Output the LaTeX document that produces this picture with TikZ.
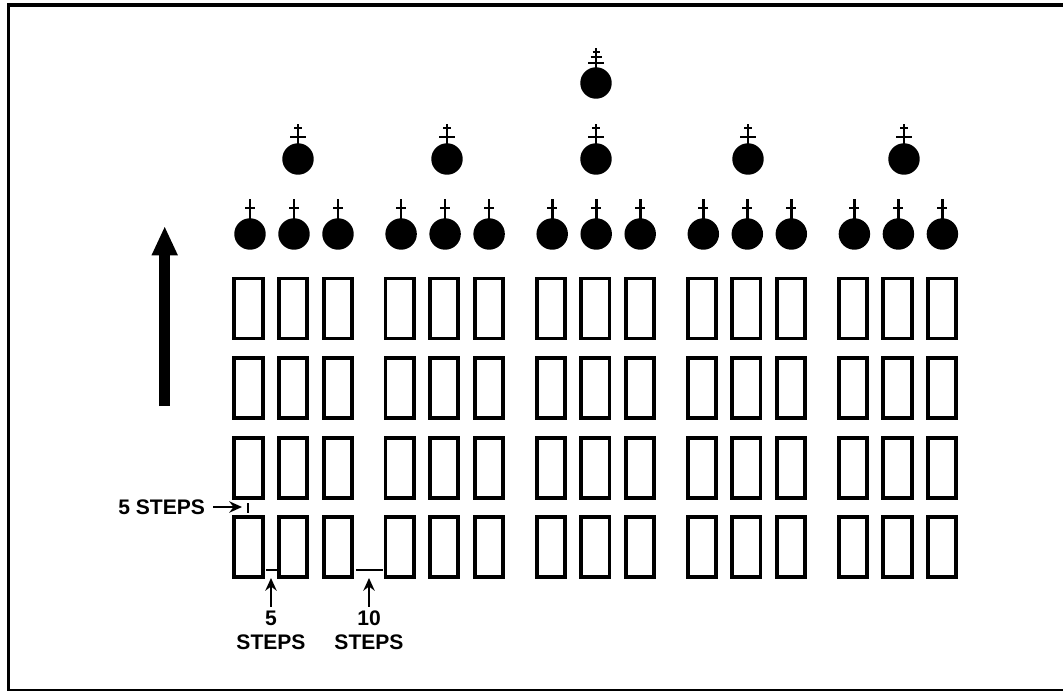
\documentclass[tikz,border=0pt]{standalone}
\usepackage{fontspec}
\setmainfont{Liberation Sans}
\usetikzlibrary{arrows.meta,calc}
\tikzset{
 bed/.style={draw,line width=2.9pt,minimum width=21.2pt,minimum height=45pt,inner sep=0pt,outer sep=0pt},
 orb/.style={circle,fill,minimum size=23.6pt,inner sep=0pt,outer sep=0pt},
 tag/.style={font=\fontsize{15.8}{18}\selectfont\bfseries,inner sep=0pt,outer sep=0pt},
 dimline/.style={line width=1.8pt},
 pointer/.style={line width=2pt,-{Stealth[length=9.5pt,width=8.5pt]}}
}
\begin{document}
\begin{tikzpicture}[x=0.75pt,y=-0.75pt]
 \useasboundingbox (0,0) rectangle (1063,691);
 \fill[white] (0,0) rectangle (1063,691);
 \draw[line width=2.8pt] (8.5,5) -- (1063,5);
 \draw[line width=2.4pt] (8.5,3) -- (8.5,691);
 \draw[line width=1.4pt] (8.5,690) -- (1063,690);
 % rows of the formation
 \foreach \g in {0,...,4}
  \foreach \c in {0,1,2}
   \foreach \r in {1,...,4}
    \node[bed] (b\g\c\r) at ({248.5+151.1*\g+44.6*\c},{308.5+79.6*(\r-1)}) {};
 % front row
 \foreach \g in {0,...,4}
  \foreach \c in {0,1,2} {
   \node[orb] (s\g\c) at ({250+151.1*\g+44*\c},234) {};
   \draw[line width=2pt] (s\g\c.center) -- ++(0,-35);
   \draw[line width=2pt] ($(s\g\c.center)+(-5,-26)$) -- ++(10,0);
  }
 % second rank
 \foreach \x/\n in {298/a,447/b,596/c,748/d,904/e} {
  \node[orb] (t\n) at (\x,159) {};
  \draw[line width=2pt] (t\n.center) -- ++(0,-35);
  \draw[line width=1.9pt] ($(t\n.center)+(-4,-31)$) -- ++(8,0);
  \draw[line width=2pt] ($(t\n.center)+(-8,-22)$) -- ++(16,0);
 }
 % top
 \node[orb] (top) at (596,83) {};
 \draw[line width=2pt] (top.center) -- ++(0,-35);
 \draw[line width=1.8pt] ($(top.center)+(-3.5,-31)$) -- ++(7,0);
 \draw[line width=1.8pt] ($(top.center)+(-5.5,-26)$) -- ++(11,0);
 \draw[line width=2pt] ($(top.center)+(-8,-20)$) -- ++(16,0);
 % big arrow
 \coordinate (tail) at (164.7,406);
 \coordinate (head) at (164.7,226);
 \draw[line width=8pt,-{Triangle[length=22pt,width=18pt]}] (tail) -- (head);
 % spacing
 \coordinate (m1) at (248,503);
 \coordinate (m2) at (248,513);
 \draw[dimline] (m1) -- (m2);
 \node[tag,anchor=east] (lab1) at (205,507) {5 STEPS};
 \coordinate (p1) at (242,507);
 \draw[pointer] ([xshift=6pt]lab1.east) -- (p1);
 \draw[dimline,shorten <=2.5pt,shorten >=1.5pt] (b004.south east |- 0,570) -- (b014.south west |- 0,570);
 \draw[dimline,shorten <=3pt,shorten >=1.6pt] (b024.south east |- 0,570) -- (b104.south west |- 0,570);
 \node[tag] (lab2) at (271,618) {5};
 \node[tag] (lab3) at (271,642) {STEPS};
 \node[tag] (lab4) at (369,618) {10};
 \node[tag] (lab5) at (369,642) {STEPS};
 \coordinate (p2) at (271,578);
 \coordinate (p3) at (369,578);
 \draw[pointer] ([yshift=3pt]lab2.north) -- (p2);
 \draw[pointer] ([yshift=3pt]lab4.north) -- (p3);
\end{tikzpicture}
\end{document}
